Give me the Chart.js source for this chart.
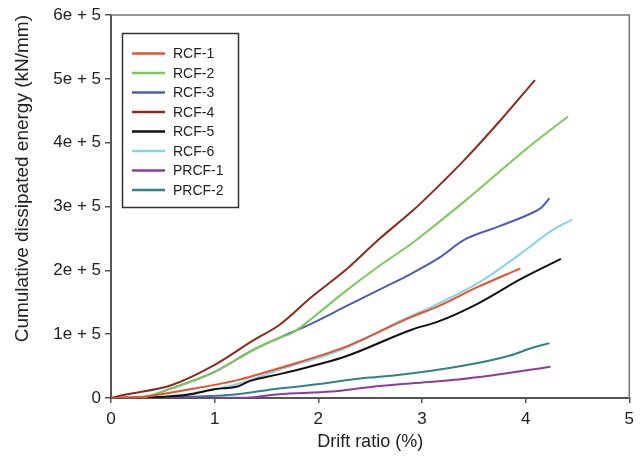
<!DOCTYPE html>
<html>
<head>
<meta charset="utf-8">
<script src="https://cdn.jsdelivr.net/npm/chart.js@4.4.0/dist/chart.umd.min.js"></script>
<style>
  html,body{margin:0;padding:0;background:#fff}
  #wrap{width:640px;height:461px;position:relative}
</style>
</head>
<body>
<div id="wrap"><canvas id="energy-chart"></canvas></div>
<script>
/* Cumulative dissipated energy vs drift ratio */
const seriesNames=['RCF-1','RCF-2','RCF-3','RCF-4','RCF-5','RCF-6','PRCF-1','PRCF-2'];
const seriesColors=['#e8502e','#7cc95b','#4e5db3','#8c2c1c','#111111','#86d4e8','#8e3c9c','#2f8383'];

// drift ratio (%) and energy (kN/mm)
const rcf1X=[0,0.3,0.74,1.22,1.67,2.26,2.9,3.16,3.54,3.95];
const rcf1Y=[0,2000,13000,28000,49000,80000,127000,144000,174000,203000];
const rcf2X=[0,0.3,0.58,1.0,1.38,1.62,1.75,1.94,2.26,2.58,2.9,3.09,3.41,3.73,4.05,4.41];
const rcf2Y=[0,1000,15000,41000,76000,94000,102000,125000,167000,206000,242000,266000,308000,352000,396000,441000];
const rcf3X=[0,0.3,0.58,1.0,1.38,1.62,1.94,2.26,2.58,2.9,3.16,3.41,3.73,4.05,4.15,4.23];
const rcf3Y=[0,1000,15000,41000,76000,94000,117000,143000,169000,195000,219000,248000,268000,289000,298000,313000];
const rcf4X=[0,0.13,0.58,1.0,1.38,1.62,1.94,2.26,2.58,2.9,3.09,3.41,3.73,4.09];
const rcf4Y=[0,5000,20000,52000,91000,114000,159000,200000,248000,292000,321000,373000,430000,498000];
const rcf5X=[0,0.4,0.74,1.01,1.22,1.33,1.67,2.26,2.9,3.16,3.54,3.96,4.34];
const rcf5Y=[0,1000,5000,14000,18000,26000,39000,65000,107000,120000,148000,187000,218000];
const rcf6X=[0,0.4,0.8,1.22,1.62,2.26,2.74,3.16,3.54,3.96,4.24,4.45];
const rcf6Y=[0,1000,8000,22000,44000,78000,117000,148000,180000,227000,261000,280000];
const prcf1X=[0,1.3,1.62,2.13,2.49,3.06,3.35,3.7,4.24];
const prcf1Y=[0,500,6000,10000,17000,25000,29000,36000,49000];
const prcf2X=[0,0.53,1.17,1.62,1.81,2.49,2.77,3.38,3.86,4.05,4.23];
const prcf2Y=[0,1000,5000,15000,18000,32000,36000,50000,67000,78000,86000];

const xTicks=[0,1,2,3,4,5];
const yTicks=[0,100000,200000,300000,400000,500000,600000];

function zip(xs,ys){return xs.map(function(x,i){return {x:x,y:ys[i]};});}
const allX=[rcf1X,rcf2X,rcf3X,rcf4X,rcf5X,rcf6X,prcf1X,prcf2X];
const allY=[rcf1Y,rcf2Y,rcf3Y,rcf4Y,rcf5Y,rcf6Y,prcf1Y,prcf2Y];

const FONT='"Liberation Sans", Arial, sans-serif';

// legend box drawn inside the plot, top-left
const boxLegend={
  id:'boxLegend',
  afterDraw(chart){
    const ctx=chart.ctx;const ds=chart.data.datasets;
    const x0=122.5,y0=33.5,w=116,h=174,row=19.5;
    ctx.save();
    ctx.fillStyle='#fff';ctx.fillRect(x0,y0,w,h);
    ctx.strokeStyle='#333';ctx.lineWidth=1.5;ctx.strokeRect(x0,y0,w,h);
    ctx.font='14px '+FONT;ctx.textBaseline='middle';
    ds.forEach(function(d,i){
      const yy=53.5+i*row;
      ctx.strokeStyle=d.borderColor;ctx.lineWidth=2.5;
      ctx.beginPath();ctx.moveTo(132,yy);ctx.lineTo(165,yy);ctx.stroke();
      ctx.fillStyle='#222';ctx.fillText(d.label,173,yy+1);
    });
    ctx.restore();
  }
};
// light frame on the top and right of the plot
const frame={
  id:'frame',
  beforeDatasetsDraw(chart){
    const a=chart.chartArea,ctx=chart.ctx;
    ctx.save();ctx.strokeStyle='#777';ctx.lineWidth=1.5;
    ctx.beginPath();ctx.moveTo(a.left,a.top);ctx.lineTo(a.right,a.top);ctx.lineTo(a.right,a.bottom);ctx.stroke();
    ctx.restore();
  }
};

new Chart(document.getElementById('energy-chart'),{
  type:'line',
  data:{datasets:seriesNames.map(function(n,i){
    return {label:n,data:zip(allX[i],allY[i]),borderColor:seriesColors[i],backgroundColor:seriesColors[i],
      borderWidth:2,pointRadius:0,fill:false,cubicInterpolationMode:'monotone'};
  })},
  options:{
    responsive:true,maintainAspectRatio:false,animation:false,
    layout:{padding:{top:15,right:6,left:0,bottom:0}},
    plugins:{legend:{display:false},tooltip:{enabled:false}},
    scales:{
      x:{type:'linear',min:0,max:5,
        afterBuildTicks(s){s.ticks=xTicks.map(function(v){return {value:v};});},
        afterFit(s){s.height=63;},
        ticks:{color:'#222',font:{family:FONT,size:17},padding:6},
        grid:{display:true,drawOnChartArea:false,tickLength:5,color:'#555',lineWidth:1.5},
        border:{display:true,color:'#555',width:2},
        title:{display:true,text:'Drift ratio (%)',color:'#222',font:{family:FONT,size:18},padding:{top:4,bottom:8}}},
      y:{type:'linear',min:0,max:600000,
        afterBuildTicks(s){s.ticks=yTicks.map(function(v){return {value:v};});},
        afterFit(s){s.width=111;},
        ticks:{color:'#222',font:{family:FONT,size:17},padding:4,
          callback:function(v){return v===0?'0':(v/100000)+'e + 5';}},
        grid:{display:true,drawOnChartArea:false,tickLength:6,color:'#555',lineWidth:1.5},
        border:{display:true,color:'#555',width:2},
        title:{display:true,text:'Cumulative dissipated energy (kN/mm)',align:'end',color:'#222',font:{family:FONT,size:19},padding:{top:11,bottom:2}}}
    }
  },
  plugins:[frame,boxLegend]
});
</script>
</body>
</html>
